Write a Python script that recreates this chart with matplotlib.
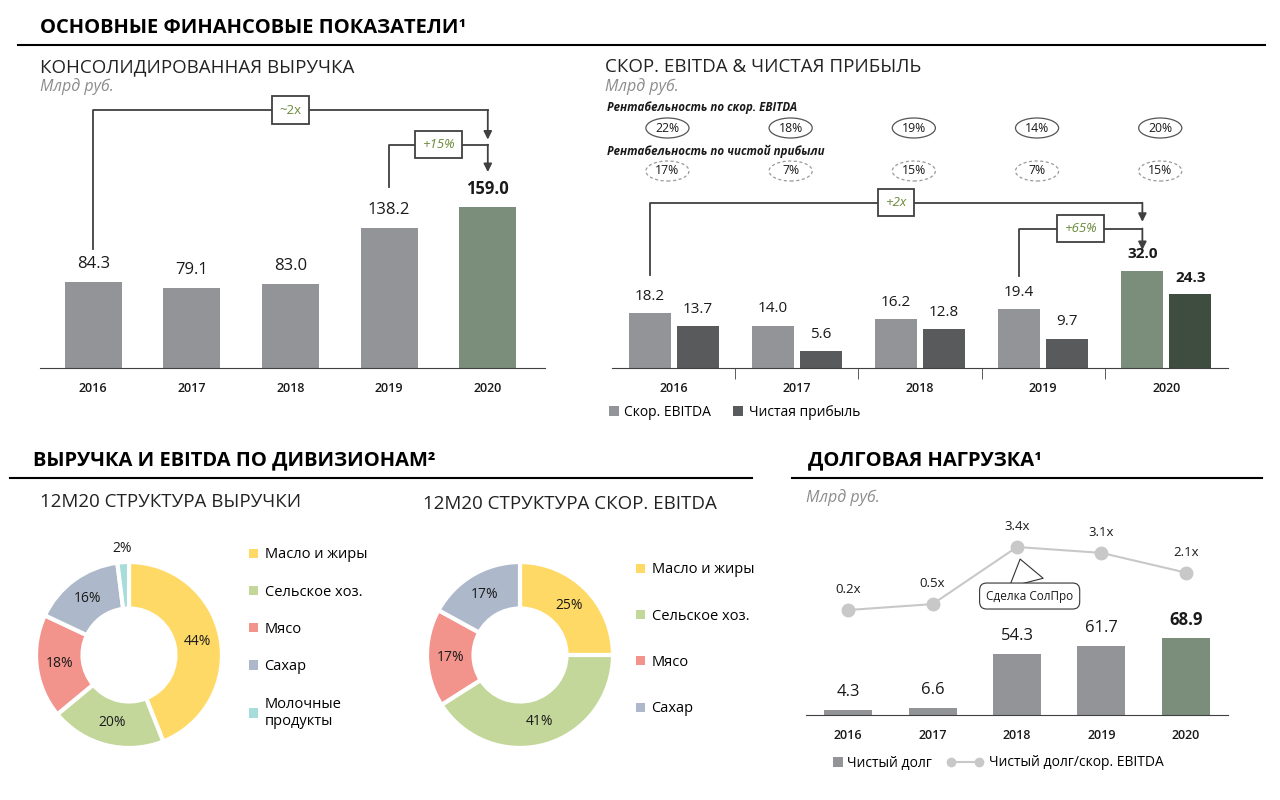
import numpy as np
import matplotlib
matplotlib.use('Agg')
import matplotlib.pyplot as plt
from matplotlib import transforms
from matplotlib.lines import Line2D
from matplotlib.patches import Rectangle, Ellipse

plt.rcParams['font.family'] = ['Open Sans', 'DejaVu Sans']

# --- data ---
years = ['2016', '2017', '2018', '2019', '2020']
revenue = [84.3, 79.1, 83.0, 138.2, 159.0]
ebitda = [18.2, 14.0, 16.2, 19.4, 32.0]
net_profit = [13.7, 5.6, 12.8, 9.7, 24.3]
ebitda_margin = [22, 18, 19, 14, 20]
np_margin = [17, 7, 15, 7, 15]
rev_segments = ['Масло и жиры', 'Сельское хоз.', 'Мясо', 'Сахар', 'Молочные\nпродукты']
rev_shares = [44, 20, 18, 16, 2]
ebitda_segments = ['Масло и жиры', 'Сельское хоз.', 'Мясо', 'Сахар']
ebitda_shares = [25, 41, 17, 17]
net_debt = [4.3, 6.6, 54.3, 61.7, 68.9]
leverage = [0.2, 0.5, 3.4, 3.1, 2.1]

GRAY = '#939497'
GREEN = '#7b8e7c'
DARK = '#595a5c'
DGREEN = '#3e4d40'
TXT = '#1a1a1a'
ACC = '#6a8a3a'
LINE_C = '#c8c8c8'
seg_colors = ['#ffd966', '#c4d79b', '#f2938c', '#adb9ca', '#a6dcda']

W, H = 1280, 800
fig = plt.figure(figsize=(12.8, 8), dpi=100)


def fx(px):
    return px / W


def fy(py):
    return 1 - py / H


def box(x0, y0, x1, y1):
    return fig.add_axes([fx(x0), fy(y1), (x1 - x0) / W, (y1 - y0) / H])


def hline(x0, x1, y):
    fig.add_artist(Line2D([fx(x0), fx(x1)], [fy(y), fy(y)], color='black', lw=1.5))


def style_bar_axis(ax):
    for s in ['top', 'left', 'right']:
        ax.spines[s].set_visible(False)
    ax.spines['bottom'].set_color('#404040')
    ax.set_yticks([])
    ax.set_xticks(range(len(years)))
    ax.set_xticklabels(years)
    ax.tick_params(axis='x', length=0, pad=10, labelsize=9, colors=TXT)
    for t in ax.get_xticklabels():
        t.set_fontweight('semibold')


def bracket(ax, x0, x1, y_start, y_top, y_end, text, italic=True):
    ax.plot([x0, x0, x1], [y_start, y_top, y_top], color='#404040', lw=1.3, clip_on=False)
    ax.annotate('', xy=(x1, y_end), xytext=(x1, y_top),
                arrowprops=dict(arrowstyle='-|>', color='#404040', lw=1.3,
                                mutation_scale=12, shrinkA=0, shrinkB=0),
                annotation_clip=False)
    ax.text((x0 + x1) / 2, y_top, text, ha='center', va='center', color=ACC,
            style='italic' if italic else 'normal', fontsize=9.5, clip_on=False,
            bbox=dict(boxstyle='square,pad=0.55', fc='white', ec='#404040', lw=1.3))


# --- headers ---
fig.text(fx(40), fy(28), 'ОСНОВНЫЕ ФИНАНСОВЫЕ ПОКАЗАТЕЛИ¹', fontsize=14.5,
         fontweight='bold', va='center', color='black')
hline(18, 1265, 45)
fig.text(fx(40), fy(67), 'КОНСОЛИДИРОВАННАЯ ВЫРУЧКА', fontsize=13.5, va='center', color='#222')
fig.text(fx(40), fy(87), 'Млрд руб.', fontsize=11.5, style='italic', va='center', color='#8c8c8c')
fig.text(fx(605), fy(67), 'СКОР. EBITDA & ЧИСТАЯ ПРИБЫЛЬ', fontsize=13.5, va='center', color='#222')
fig.text(fx(605), fy(87), 'Млрд руб.', fontsize=11.5, style='italic', va='center', color='#8c8c8c')

fig.text(fx(33), fy(460), 'ВЫРУЧКА И EBITDA ПО ДИВИЗИОНАМ²', fontsize=14.5,
         fontweight='bold', va='center', color='black')
hline(10, 752, 478)
fig.text(fx(40), fy(502), '12M20 СТРУКТУРА ВЫРУЧКИ', fontsize=13.5, va='center', color='#222')
fig.text(fx(423), fy(504), '12M20 СТРУКТУРА СКОР. EBITDA', fontsize=13.5, va='center', color='#222')

fig.text(fx(808), fy(460), 'ДОЛГОВАЯ НАГРУЗКА¹', fontsize=14.5,
         fontweight='bold', va='center', color='black')
hline(792, 1262, 478)
fig.text(fx(806), fy(498), 'Млрд руб.', fontsize=11.5, style='italic', va='center', color='#8c8c8c')

# --- panel 1: revenue ---
ax1 = box(40, 100, 545, 368)
x = np.arange(len(years))
cols1 = [GRAY] * 4 + [GREEN]
ax1.bar(x, revenue, width=0.58, color=cols1)
ax1.set_xlim(-0.54, 4.58)
ax1.set_ylim(0, 264)
style_bar_axis(ax1)
for i, v in enumerate(revenue):
    ax1.annotate(f'{v:.1f}', (i, v), xytext=(0, 13), textcoords='offset points',
                 ha='center', va='center', fontsize=12, color=TXT,
                 fontweight='bold' if i == 4 else 'normal')
bracket(ax1, 0, 4, revenue[0] + 33, 254, revenue[4] + 66, '~2x', italic=False)
bracket(ax1, 3, 4, revenue[3] + 40, 220, revenue[4] + 34, '+15%')

# --- panel 2: EBITDA & net profit ---
ax2 = box(612, 190, 1228, 368)
off = 0.195
cols_e = [GRAY] * 4 + [GREEN]
cols_n = [DARK] * 4 + [DGREEN]
ax2.bar(x - off, ebitda, width=0.34, color=cols_e)
ax2.bar(x + off, net_profit, width=0.34, color=cols_n)
ax2.set_xlim(-0.5, 4.5)
ax2.set_ylim(0, 58.7)
style_bar_axis(ax2)
ax2.set_xticks([0.5, 1.5, 2.5, 3.5], minor=True)
ax2.tick_params(axis='x', which='minor', length=8, color='#404040')
for i in range(len(years)):
    bw = 'bold' if i == 4 else 'normal'
    ax2.annotate(f'{ebitda[i]:.1f}', (i - off, ebitda[i]), xytext=(0, 12), textcoords='offset points',
                 ha='center', va='center', fontsize=11, color=TXT, fontweight=bw)
    ax2.annotate(f'{net_profit[i]:.1f}', (i + off, net_profit[i]), xytext=(0, 12), textcoords='offset points',
                 ha='center', va='center', fontsize=11, color=TXT, fontweight=bw)
bracket(ax2, -off, 4 - off, ebitda[0] + 12.4, 54.5, ebitda[4] + 16.2, '+2x')
bracket(ax2, 3 - off, 4 - off, ebitda[3] + 10.8, 46.0, ebitda[4] + 6.9, '+65%')

blend = transforms.blended_transform_factory(ax2.transData, fig.transFigure)
fig.text(fx(607), fy(108), 'Рентабельность по скор. EBITDA', fontsize=8.3,
         fontweight='bold', style='italic', va='center', color=TXT)
fig.text(fx(607), fy(151), 'Рентабельность по чистой прибыли', fontsize=8.3,
         fontweight='bold', style='italic', va='center', color=TXT)
for i in range(len(years)):
    cx = i - 0.05
    ax2.add_patch(Ellipse((cx, fy(128)), 0.35, 20 / H, transform=blend, fc='white',
                          ec='#555555', lw=0.9, clip_on=False))
    ax2.text(cx, fy(128), f'{ebitda_margin[i]}%', transform=blend, ha='center', va='center',
             fontsize=8.8, color=TXT, clip_on=False)
    ax2.add_patch(Ellipse((cx, fy(171)), 0.35, 20 / H, transform=blend, fc='white',
                          ec='#9a9a9a', lw=0.9, ls=(0, (2.5, 2)), clip_on=False))
    ax2.text(cx, fy(171), f'{np_margin[i]}%', transform=blend, ha='center', va='center',
             fontsize=8.8, color=TXT, clip_on=False)

ax2.legend([Rectangle((0, 0), 1, 1, fc=GRAY), Rectangle((0, 0), 1, 1, fc=DARK)],
           ['Скор. EBITDA', 'Чистая прибыль'], ncol=2, frameon=False, fontsize=10,
           loc='center left', bbox_to_anchor=(fx(602), fy(412)), bbox_transform=fig.transFigure,
           handlelength=0.7, handleheight=0.7, handletextpad=0.4, columnspacing=1.6, borderpad=0)


# --- donuts ---
def donut(cx, cy, shares, labels, colors, leg_x, leg_y, spacing):
    r = 93
    ax = box(cx - 100, cy - 100, cx + 100, cy + 100)
    wedges, _ = ax.pie(shares, startangle=90, counterclock=False, colors=colors,
                       wedgeprops=dict(width=0.5, edgecolor='white', linewidth=3))
    lim = 100 / r
    ax.set_xlim(-lim, lim)
    ax.set_ylim(-lim, lim)
    ax.set_aspect('equal')
    for w, s in zip(wedges, shares):
        ang = np.deg2rad((w.theta1 + w.theta2) / 2)
        rr = 1.15 if s < 5 else 0.75
        ax.text(rr * np.cos(ang), rr * np.sin(ang), f'{s}%', ha='center', va='center',
                fontsize=10, color=TXT)
    ax.legend([Rectangle((0, 0), 1, 1, fc=c) for c in colors], labels, frameon=False,
              fontsize=10.5, loc='upper left', bbox_to_anchor=(fx(leg_x), fy(leg_y)),
              bbox_transform=fig.transFigure, handlelength=0.6, handleheight=0.6,
              handletextpad=0.45, labelspacing=spacing, borderpad=0)


donut(129, 655, rev_shares, rev_segments, seg_colors, 242, 540, 1.53)
donut(520, 655, ebitda_shares, ebitda_segments, seg_colors[:4], 629, 555, 2.15)

# --- panel 4: debt ---
ax4 = box(806, 520, 1228, 715)
cols4 = [GRAY] * 4 + [GREEN]
ax4.bar(x, net_debt, width=0.57, color=cols4)
ax4.set_xlim(-0.5, 4.5)
ax4.set_ylim(0, 174)
style_bar_axis(ax4)
for i, v in enumerate(net_debt):
    ax4.annotate(f'{v:.1f}', (i, v), xytext=(0, 13), textcoords='offset points',
                 ha='center', va='center', fontsize=12, color=TXT,
                 fontweight='bold' if i == 4 else 'normal')
ax4b = ax4.twinx()
ax4b.set_ylim(-5.13, 4.77)
ax4b.axis('off')
ax4b.plot(x, leverage, color=LINE_C, lw=1.5, marker='o', ms=9, mfc=LINE_C, mec=LINE_C)
for i, v in enumerate(leverage):
    ax4b.annotate(f'{v}x', (i, v), xytext=(0, 14.5), textcoords='offset points',
                  ha='center', va='center', fontsize=9.5, color=TXT)
ax4b.annotate('Сделка СолПро', xy=(2, leverage[2]), xytext=(2.15, 0.91), textcoords='data',
              ha='center', va='center', fontsize=8.5, color=TXT,
              bbox=dict(boxstyle='round,pad=0.55,rounding_size=0.6', fc='white', ec='#333333', lw=0.8),
              arrowprops=dict(arrowstyle='wedge,tail_width=1.4,shrink_factor=0.5', fc='white',
                              ec='#333333', lw=0.8, shrinkB=9, shrinkA=0, mutation_scale=18))

ax4.legend([Rectangle((0, 0), 1, 1, fc=GRAY)], ['Чистый долг'], frameon=False, fontsize=10,
           loc='center left', bbox_to_anchor=(fx(826), fy(763)), bbox_transform=fig.transFigure,
           handlelength=0.7, handleheight=0.7, handletextpad=0.3, borderpad=0)
ax4b.legend([Line2D([], [], color=LINE_C, lw=1.5, marker='o', ms=6, mfc=LINE_C, mec=LINE_C)],
            ['Чистый долг/скор. EBITDA'], frameon=False, fontsize=10,
            loc='center left', bbox_to_anchor=(fx(940), fy(763)), bbox_transform=fig.transFigure,
            handlelength=2.6, handletextpad=0.4, borderpad=0, numpoints=2)

fig.savefig('out.png', dpi=100)
